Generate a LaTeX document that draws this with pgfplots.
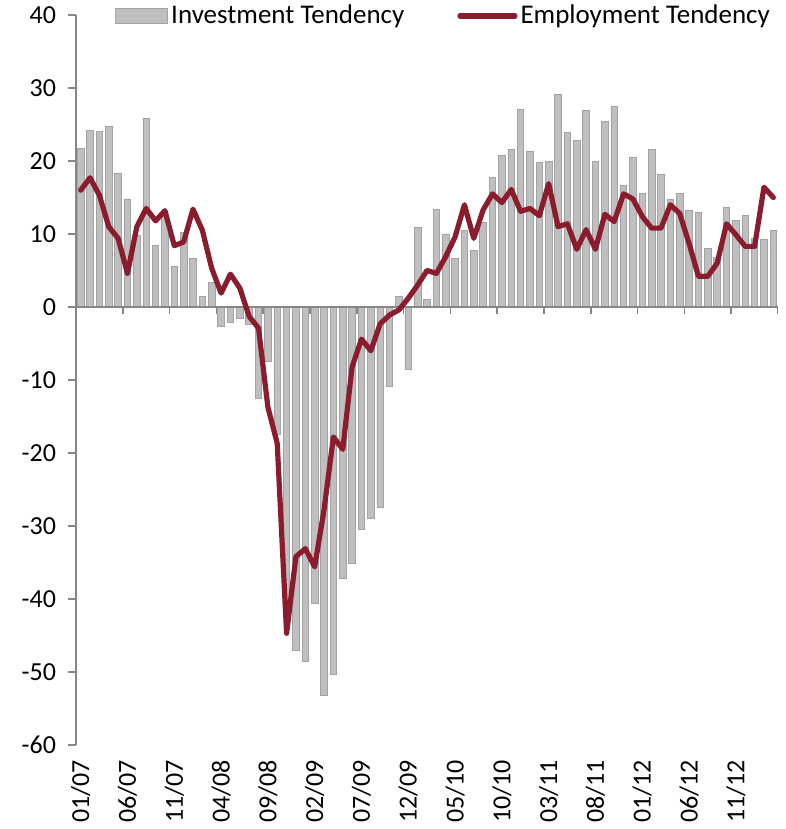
\documentclass[border=0pt]{standalone}
\usepackage{fontspec}
\setmainfont{Carlito}
\usepackage{pgfplots}
\usepackage{pgfplotstable}
\pgfplotsset{compat=1.18}
\definecolor{barfill}{HTML}{BFBFBF}
\definecolor{barline}{HTML}{A3A3A3}
\definecolor{emp}{HTML}{8A1C2E}
\definecolor{axisgray}{HTML}{868686}
\pgfplotsset{
  barlegend/.style={legend image code/.code={\draw[##1] (0pt,-3.75pt) rectangle (26pt,3.75pt);}},
  linelegend/.style={legend image code/.code={\draw[##1] (0pt,0pt) -- (27.5pt,0pt);}},
}

\pgfplotstableread{
i inv emp
0 21.7 16.0
1 24.2 17.7
2 24.0 15.3
3 24.7 11.0
4 18.3 9.4
5 14.8 4.6
6 9.8 11.0
7 25.8 13.5
8 8.4 11.8
9 12.5 13.2
10 5.6 8.4
11 10.2 8.9
12 6.7 13.4
13 1.4 10.5
14 3.4 5.3
15 -2.7 1.9
16 -2.1 4.5
17 -1.5 2.6
18 -2.4 -1.3
19 -12.5 -2.9
20 -7.4 -13.7
21 -17.4 -18.7
22 -41.0 -44.7
23 -47.0 -34.2
24 -48.5 -33.1
25 -40.6 -35.6
26 -53.2 -27.8
27 -50.3 -17.8
28 -37.2 -19.5
29 -35.1 -8.2
30 -30.5 -4.4
31 -28.9 -6.0
32 -27.4 -2.3
33 -10.9 -1.1
34 1.5 -0.4
35 -8.5 1.2
36 10.9 3.0
37 1.0 5.0
38 13.4 4.6
39 10.0 6.9
40 6.6 9.6
41 10.5 14.0
42 7.8 9.4
43 11.6 13.3
44 17.8 15.5
45 20.7 14.3
46 21.6 16.1
47 27.0 13.1
48 21.3 13.5
49 19.8 12.5
50 19.9 16.9
51 29.1 11.0
52 23.9 11.4
53 22.8 7.9
54 26.9 10.6
55 19.9 7.9
56 25.4 12.7
57 27.5 11.7
58 16.6 15.5
59 20.5 14.8
60 15.6 12.4
61 21.6 10.8
62 18.1 10.8
63 14.8 14.0
64 15.6 12.8
65 13.2 8.7
66 13.0 4.2
67 8.0 4.2
68 6.8 6.0
69 13.7 11.4
70 11.9 9.9
71 12.5 8.3
72 9.4 8.3
73 9.3 16.4
74 10.5 15.0
}\datatable

\begin{document}
\begin{tikzpicture}
\begin{axis}[
  scale only axis, width=351pt, height=365pt,
  xmin=-0.5, xmax=74.5, ymin=-60, ymax=40,
  axis lines=left,
  axis line style={-, axisgray, line width=0.75pt},
  x axis line style={draw=none},
  ytick={-60,-50,...,40},
  xtick={0,5,...,70},
  xticklabels={01/07,06/07,11/07,04/08,09/08,02/09,07/09,12/09,05/10,10/10,03/11,08/11,01/12,06/12,11/12},
  x tick label style={rotate=90, anchor=east, font=\fontsize{13}{15}\selectfont},
  y tick label style={font=\fontsize{13}{15}\selectfont, xshift=-2.5pt},
  tick align=outside,
  major tick length=4pt,
  y tick style={axisgray, line width=0.75pt},
  x tick style={draw=none},
  /pgf/number format/assume math mode=true,
  legend columns=2,
  legend style={draw=none, fill=none, at={(0.0556,0.9986)}, anchor=west,
    font=\fontsize{13.5}{15}\selectfont, inner sep=0pt,
    /tikz/every even column/.append style={column sep=25pt},
    nodes={inner xsep=1.5pt, inner ysep=0pt}},
  legend cell align=left,
]
\addplot[ybar, bar width=0.7, fill=barfill, draw=barline, line width=0.4pt, barlegend]
  table[x=i, y=inv] {\datatable};
\addlegendentry{Investment Tendency}
\draw[axisgray, line width=0.75pt] (axis cs:-0.5,0) -- (axis cs:74.5,0);
\pgfplotsinvokeforeach{-0.5,4.5,9.5,14.5,19.5,24.5,29.5,34.5,39.5,44.5,49.5,54.5,59.5,64.5,69.5,74.5}{
  \draw[axisgray, line width=0.75pt] (axis cs:#1,0) -- ++(0pt,-3.5pt);
}
\addplot[emp, line width=2.6pt, line join=round, line cap=round, mark=none, linelegend]
  table[x=i, y=emp] {\datatable};
\addlegendentry{Employment Tendency}
\end{axis}
\pgfresetboundingbox
\useasboundingbox (-38pt,-42pt) rectangle (355pt,372.5pt);
\end{tikzpicture}
\end{document}
